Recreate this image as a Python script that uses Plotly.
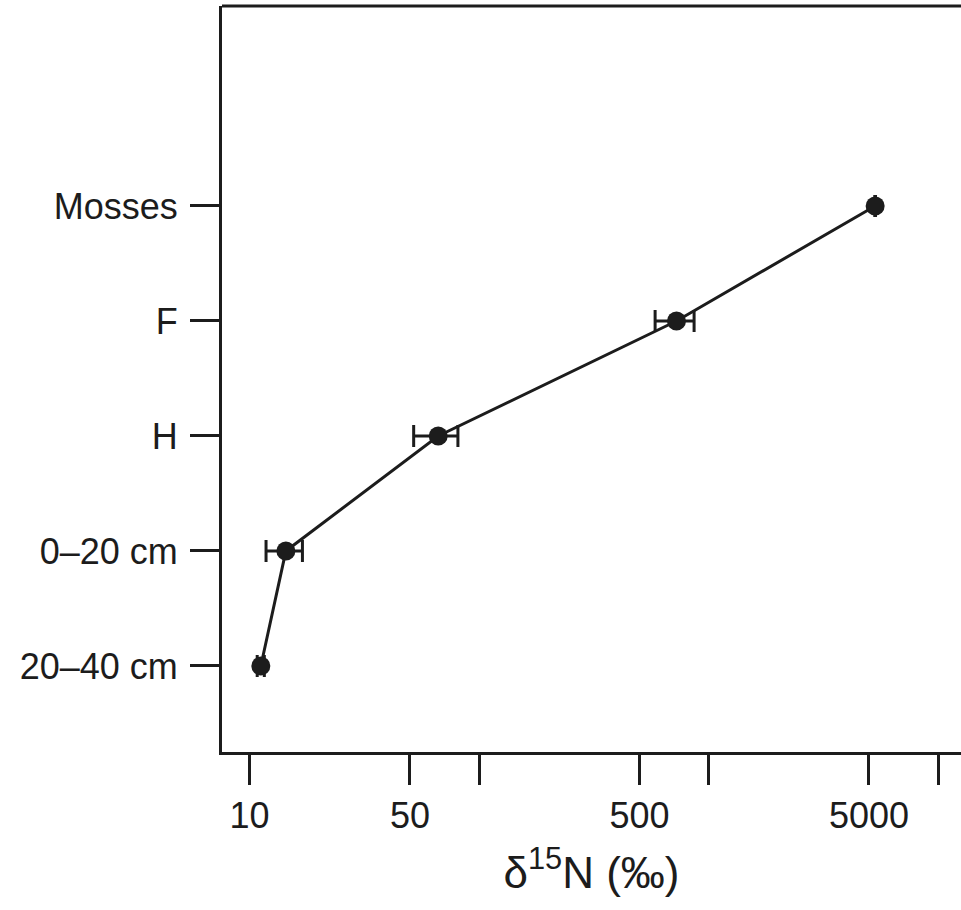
import plotly.graph_objects as go

categories = ["20–40 cm", "0–20 cm", "H", "F", "Mosses"]
positions = [1, 2, 3, 4, 5]
delta15n = [11.2, 14.4, 66.4, 725, 5320]
err = [0.4, 2.6, 14.5, 140, 20]

x_tickvals = [10, 50, 100, 500, 1000, 5000, 10000]
x_ticktext = ["10", "50", "", "500", "", "5000", ""]

ink = "#1c1c1c"
fnt = "Liberation Sans, Arial, Helvetica, sans-serif"

fig = go.Figure()
fig.add_trace(go.Scatter(
    x=delta15n, y=positions, mode="lines+markers",
    line=dict(color=ink, width=3),
    marker=dict(color=ink, size=19, symbol="circle"),
    error_x=dict(type="data", array=err, visible=True, color=ink,
                 thickness=3, width=11),
    showlegend=False,
))

fig.update_layout(
    width=961, height=910,
    margin=dict(l=222, r=0, t=6, b=158),
    plot_bgcolor="white", paper_bgcolor="white",
    font=dict(family=fnt, color=ink),
    xaxis=dict(
        type="log", range=[0.880, 4.100],
        tickvals=x_tickvals, ticktext=x_ticktext,
        ticks="outside", ticklen=30, tickwidth=2.5, tickcolor=ink,
        showline=True, linewidth=3, linecolor=ink,
        showgrid=False, zeroline=False,
        tickfont=dict(size=36, color=ink, family=fnt),
        title=dict(text="δ<sup>15</sup>N (‰)", font=dict(size=44, color=ink, family=fnt), standoff=22),
    ),
    yaxis=dict(
        range=[0.252, 6.739],
        tickvals=positions, ticktext=categories,
        ticks="outside", ticklen=29, tickwidth=2.5, tickcolor=ink,
        ticklabelstandoff=5,
        showline=True, linewidth=3, linecolor=ink,
        showgrid=False, zeroline=False,
        tickfont=dict(size=36, color=ink, family=fnt),
    ),
    shapes=[dict(type="line", xref="paper", yref="paper", x0=0, x1=1, y0=1, y1=1,
                 line=dict(color=ink, width=3))],
)

fig.write_html("out.html")
